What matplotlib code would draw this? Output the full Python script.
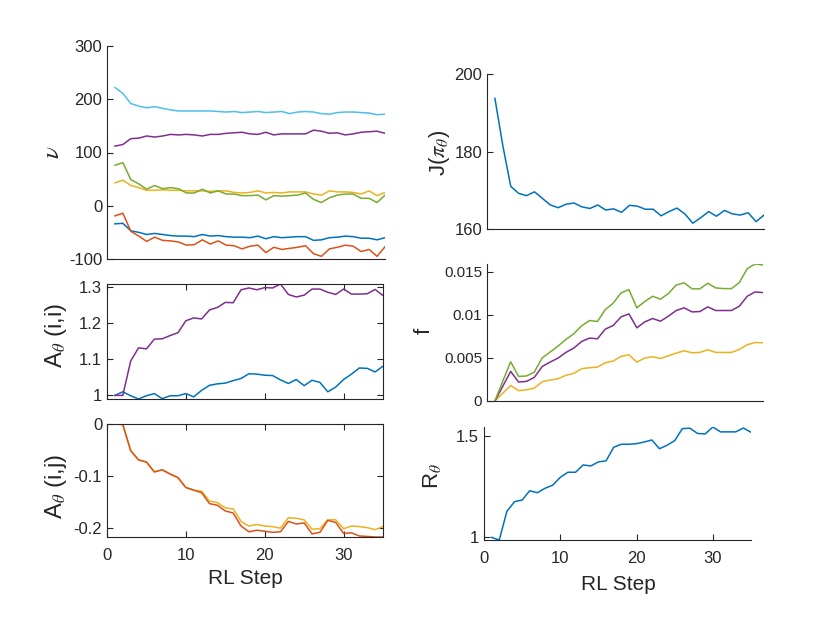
import numpy as np
import matplotlib
matplotlib.use("Agg")
import matplotlib.pyplot as plt

plt.rcParams['font.family'] = ['Liberation Sans', 'DejaVu Sans']
plt.rcParams['mathtext.fontset'] = 'stix'
plt.rcParams['axes.unicode_minus'] = False
plt.rcParams['xtick.direction'] = 'in'
plt.rcParams['ytick.direction'] = 'in'

# matlab default colours
c_blue = '#0072BD'
c_orange = '#D95319'
c_yellow = '#EDB120'
c_purple = '#7E2F8E'
c_green = '#77AC30'
c_lblue = '#4DBEEE'
txt = '#262626'

steps = np.arange(1, 36)

# nu, six components
nu_blue = [-34, -33, -47, -50, -54, -52, -54, -56, -57, -57, -58, -54, -57, -56, -58, -59, -59, -60,
           -57, -62, -58, -60, -59, -58, -58, -65, -64, -60, -59, -57, -58, -61, -61, -64, -60]
nu_orange = [-19, -14, -48, -57, -67, -59, -65, -66, -68, -74, -73, -64, -72, -66, -74, -75, -81, -76,
             -74, -88, -78, -82, -80, -78, -75, -90, -95, -81, -78, -74, -76, -86, -82, -95, -77]
nu_yellow = [43, 48, 38, 34, 29, 29, 30, 29, 29, 28, 28, 28, 27, 28, 28, 25, 24, 25,
             28, 24, 25, 24, 26, 26, 26, 22, 20, 28, 26, 26, 25, 22, 28, 19, 25]
nu_purple = [112, 115, 126, 127, 131, 129, 131, 134, 133, 134, 133, 131, 134, 134, 136, 137, 138, 135,
             134, 138, 133, 135, 135, 135, 135, 142, 140, 136, 137, 133, 135, 138, 139, 140, 136]
nu_green = [76, 81, 49, 41, 31, 38, 32, 34, 32, 24, 24, 31, 24, 28, 22, 22, 19, 19,
            20, 11, 19, 18, 19, 20, 24, 12, 6, 15, 20, 22, 22, 14, 14, 6, 20]
nu_lblue = [222, 211, 192, 187, 184, 186, 183, 180, 178, 178, 178, 178, 178, 177, 176, 177, 175, 176,
            177, 175, 176, 177, 173, 176, 177, 176, 173, 172, 175, 176, 176, 175, 174, 171, 172]

# diagonal entries of A_theta
aii_purple = [1.0, 1.0, 1.095, 1.132, 1.129, 1.156, 1.157, 1.166, 1.174, 1.207, 1.215, 1.212, 1.237,
              1.244, 1.258, 1.257, 1.293, 1.298, 1.293, 1.299, 1.298, 1.309, 1.28, 1.273, 1.278,
              1.295, 1.295, 1.286, 1.28, 1.295, 1.281, 1.281, 1.282, 1.294, 1.277]
aii_blue = [1.0, 1.01, 0.999, 0.99, 0.999, 1.005, 0.991, 0.999, 0.999, 1.005, 0.996, 1.014, 1.028,
            1.032, 1.034, 1.041, 1.047, 1.06, 1.059, 1.056, 1.055, 1.043, 1.033, 1.044, 1.027,
            1.042, 1.036, 1.01, 1.023, 1.044, 1.059, 1.076, 1.075, 1.065, 1.081]

# off diagonal entries of A_theta
aij_orange = [0, -0.001, -0.051, -0.069, -0.073, -0.092, -0.088, -0.096, -0.103, -0.122, -0.127,
              -0.132, -0.153, -0.156, -0.167, -0.171, -0.196, -0.207, -0.204, -0.206, -0.208,
              -0.207, -0.187, -0.192, -0.19, -0.211, -0.208, -0.185, -0.189, -0.21, -0.209,
              -0.215, -0.216, -0.217, -0.217]
aij_yellow = [0, -0.001, -0.051, -0.069, -0.073, -0.092, -0.088, -0.096, -0.103, -0.122, -0.127,
              -0.129, -0.148, -0.151, -0.161, -0.163, -0.187, -0.196, -0.193, -0.196, -0.197,
              -0.2, -0.18, -0.181, -0.184, -0.202, -0.201, -0.184, -0.184, -0.201, -0.196,
              -0.197, -0.199, -0.203, -0.197]

# cost J(pi_theta)
J_vals = [193.7, 181.5, 171, 169.2, 168.6, 169.6, 167.9, 166.2, 165.5, 166.4, 166.7, 165.7, 165.3,
          166.2, 164.9, 165.2, 164.3, 166.1, 165.9, 165.1, 165.1, 163.4, 164.5, 165.4, 163.9,
          161.5, 162.9, 164.5, 163.3, 164.8, 163.9, 163.6, 164.2, 161.9, 163.6]

# f, three components
f_green = [0, 0.0023, 0.00455, 0.00285, 0.0029, 0.00335, 0.005, 0.00567, 0.00636, 0.00713, 0.00779,
           0.00871, 0.00933, 0.00921, 0.0106, 0.01133, 0.01253, 0.01291, 0.0108, 0.01153, 0.01214,
           0.0118, 0.01245, 0.01345, 0.01369, 0.013, 0.013, 0.01365, 0.01311, 0.01303, 0.01303,
           0.01372, 0.01534, 0.01588, 0.01577]
f_purple = [0, 0.0017, 0.00343, 0.0022, 0.00227, 0.00274, 0.004, 0.00451, 0.00497, 0.00563, 0.00613,
            0.0069, 0.00729, 0.00721, 0.00833, 0.00875, 0.00975, 0.0101, 0.00848, 0.00917, 0.00956,
            0.00925, 0.00983, 0.01049, 0.0108, 0.01033, 0.01037, 0.01091, 0.01049, 0.01049,
            0.01049, 0.01099, 0.01214, 0.01264, 0.01257]
f_yellow = [0, 0.0009, 0.0018, 0.0012, 0.0013, 0.0015, 0.00224, 0.00243, 0.00258, 0.00297, 0.0032,
            0.00374, 0.00386, 0.00393, 0.00443, 0.00463, 0.00517, 0.00536, 0.00451, 0.00497,
            0.00513, 0.00493, 0.00524, 0.00555, 0.00582, 0.00559, 0.00563, 0.00594, 0.00563,
            0.00563, 0.00563, 0.00598, 0.00652, 0.00678, 0.00675]

# R_theta
R_vals = [1.0, 0.987, 1.128, 1.176, 1.184, 1.23, 1.22, 1.242, 1.257, 1.296, 1.321, 1.321, 1.357,
          1.352, 1.372, 1.377, 1.444, 1.459, 1.459, 1.462, 1.47, 1.48, 1.437, 1.454, 1.477, 1.536,
          1.538, 1.512, 1.51, 1.544, 1.52, 1.52, 1.52, 1.539, 1.518]

W, H = 830, 623
fig = plt.figure(figsize=(W / 100, H / 100), dpi=100)


def box(left, right, top, bottom):
    # pixel box -> figure fractions
    return [left / W, 1 - bottom / H, (right - left) / W, (bottom - top) / H]


def style(ax, boxed=False, fs=12):
    for s in ['left', 'bottom', 'top', 'right']:
        ax.spines[s].set_color(txt)
        ax.spines[s].set_linewidth(0.8)
    if not boxed:
        ax.spines['top'].set_visible(False)
        ax.spines['right'].set_visible(False)
    ax.tick_params(colors=txt, labelsize=fs, length=4, width=0.8,
                   top=boxed, right=boxed)
    ax.tick_params(axis='x', pad=8)


def ylab(ax, label, cx, cy, size=16):
    ax.set_ylabel(label, fontsize=size, color=txt, va='center', ha='center')
    ax.yaxis.set_label_coords(cx / W, 1 - cy / H, transform=fig.transFigure)


def xlab(ax, cx, cy):
    ax.set_xlabel('RL Step', fontsize=15, color=txt, va='center', ha='center')
    ax.xaxis.set_label_coords(cx / W, 1 - cy / H, transform=fig.transFigure)


lw = 1.1

# nu
ax1 = fig.add_axes(box(107, 385, 46, 259))
for vals, col in [(nu_blue, c_blue), (nu_orange, c_orange), (nu_yellow, c_yellow),
                  (nu_purple, c_purple), (nu_green, c_green), (nu_lblue, c_lblue)]:
    ax1.plot(steps, vals, color=col, lw=lw)
ax1.set_xlim(0, 35)
ax1.set_ylim(-100, 300)
ax1.set_yticks([-100, 0, 100, 200, 300])
ax1.set_xticks([])
style(ax1)
ylab(ax1, r'$\nu$', 52, 152, size=18)

# A(i,i)
ax2 = fig.add_axes(box(107, 383, 284, 399))
ax2.plot(steps, aii_blue, color=c_blue, lw=lw)
ax2.plot(steps, aii_purple, color=c_purple, lw=lw)
ax2.set_xlim(0, 35)
ax2.set_ylim(min(aii_blue), max(aii_purple))
ax2.set_yticks([1, 1.1, 1.2, 1.3])
ax2.set_yticklabels(['1', '1.1', '1.2', '1.3'])
ax2.set_xticks([0, 10, 20, 30])
ax2.set_xticklabels([])
style(ax2, boxed=True)
ylab(ax2, r'A$_\theta$ (i,i)', 56, 335, size=17)

# A(i,j)
ax3 = fig.add_axes(box(107, 383, 424, 537))
ax3.plot(steps, aij_yellow, color=c_yellow, lw=lw)
ax3.plot(steps, aij_orange, color=c_orange, lw=lw)
ax3.set_xlim(0, 35)
ax3.set_ylim(min(aij_orange), 0)
ax3.set_yticks([-0.2, -0.1, 0])
ax3.set_yticklabels(['-0.2', '-0.1', '0'])
ax3.set_xticks([0, 10, 20, 30])
style(ax3, boxed=True)
ylab(ax3, r'A$_\theta$ (i,j)', 56, 486, size=17)
xlab(ax3, 245, 578)

# J
ax4 = fig.add_axes(box(487, 764, 74, 229))
ax4.plot(steps, J_vals, color=c_blue, lw=lw)
ax4.set_xlim(0, 35)
ax4.set_ylim(160, 200)
ax4.set_yticks([160, 180, 200])
ax4.set_xticks([])
style(ax4)
ylab(ax4, r'J($\pi_\theta$)', 439, 153)

# f
ax5 = fig.add_axes(box(487, 763, 264, 401))
ax5.plot(steps, f_yellow, color=c_yellow, lw=lw)
ax5.plot(steps, f_purple, color=c_purple, lw=lw)
ax5.plot(steps, f_green, color=c_green, lw=lw)
ax5.set_xlim(0, 35)
ax5.set_ylim(0, max(f_green))
ax5.set_yticks([0, 0.005, 0.01, 0.015])
ax5.set_yticklabels(['0', '0.005', '0.01', '0.015'])
ax5.set_xticks([])
style(ax5, fs=11)
ylab(ax5, 'f', 424, 331)

# R
ax6 = fig.add_axes(box(484, 751, 427, 540))
ax6.plot(steps, R_vals, color=c_blue, lw=lw)
ax6.set_xlim(0, 35)
ax6.set_ylim(min(R_vals), max(R_vals))
ax6.set_yticks([1, 1.5])
ax6.set_yticklabels(['1', '1.5'])
ax6.set_xticks([0, 10, 20, 30])
style(ax6)
ylab(ax6, r'R$_\theta$', 432, 476)
xlab(ax6, 618, 585)

fig.savefig('out.png', dpi=100)
